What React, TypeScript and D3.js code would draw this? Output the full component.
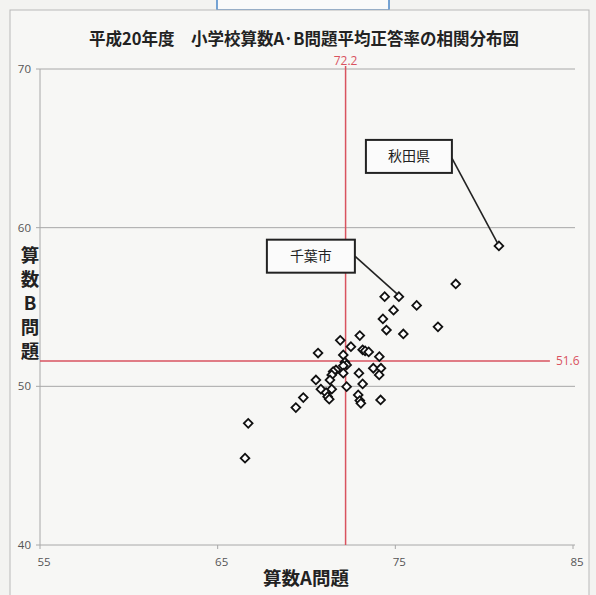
import React from "react";
import * as d3 from "d3";

const scoreA: number[] = [80.83, 78.4, 74.4, 75.2, 76.2, 74.9, 74.3, 77.4, 74.5, 75.45, 73.0, 71.9, 72.5, 73.16, 73.3, 73.5, 70.65, 72.07, 74.1, 72.16, 72.26, 72.07, 73.76, 74.19, 71.66, 71.5, 71.42, 72.95, 74.09, 72.07, 70.53, 71.32, 73.16, 72.26, 70.81, 71.42, 71.1, 71.19, 71.28, 72.91, 73.0, 73.06, 69.82, 74.17, 69.4, 66.72, 66.54];
const scoreB: number[] = [58.85, 56.45, 55.65, 55.65, 55.1, 54.8, 54.25, 53.75, 53.55, 53.3, 53.2, 52.9, 52.5, 52.3, 52.23, 52.17, 52.1, 51.98, 51.87, 51.52, 51.35, 51.29, 51.14, 51.14, 51.03, 50.93, 50.72, 50.83, 50.72, 50.83, 50.4, 50.4, 50.15, 49.98, 49.82, 49.82, 49.6, 49.35, 49.19, 49.46, 49.1, 48.93, 49.29, 49.14, 48.66, 47.67, 45.47];

const xTicks: number[] = [55, 65, 75, 85];
const yTicks: number[] = [40, 50, 60, 70];
const meanA = 72.2;
const meanB = 51.6;

const calloutNames: string[] = ["秋田県", "千葉市"];
const calloutIndex: number[] = [0, 3];

const title = "平成20年度\u3000小学校算数A·B問題平均正答率の相関分布図";
const xTitle = "算数A問題";
const yTitle: string[] = ["算", "数", "B", "問", "題"];

const W = 596;
const H = 595;
const left = 40;
const right = 573;
const top = 69;
const bottom = 545;

export default function App() {
  const x = d3.scaleLinear().domain([55, 85]).range([left, right]);
  const y = d3.scaleLinear().domain([40, 70]).range([bottom, top]);
  const marker = d3.symbol().type(d3.symbolSquare).size(38)();
  const jp = "'Noto Sans CJK JP', 'Noto Sans', sans-serif";
  const num = "'Open Sans', 'Liberation Sans', sans-serif";
  const red = "#d9535f";

  const boxes = [
    { dx: -133, dy: -106, w: 86, h: 33, ly: 0.55 },
    { dx: -132, dy: -57, w: 88, h: 33, ly: 0.5 },
  ];

  return (
    <div style={{ position: "absolute", left: 0, top: 0 }}>
      <svg width={W} height={H} style={{ display: "block" }}>
        <rect x={0} y={0} width={W} height={H} fill="#f3f3f1" />
        <rect x={217} y={-2} width={172} height={12} fill="#fafafa" stroke="#4a86c8" strokeWidth={1.5} />
        <rect x={10} y={10} width={579} height={H} fill="#f7f7f5" stroke="#b9b9b9" strokeWidth={1} />
        <text x={304} y={45} textAnchor="middle" fontFamily={jp} fontWeight="bold" fontSize={16.5} fill="#222">
          {title}
        </text>
        {yTicks.filter((t) => t > 40).map((t) => (
          <line key={"g" + t} x1={left} x2={right + 2} y1={y(t)} y2={y(t)} stroke="#a8a8a8" strokeWidth={1} />
        ))}
        <line x1={left} x2={right + 2} y1={y(40)} y2={y(40)} stroke="#a8a8a8" strokeWidth={1} />
        <line x1={left} x2={left} y1={y(70)} y2={y(40)} stroke="#a8a8a8" strokeWidth={1} />
        {xTicks.map((t) => (
          <line key={"xt" + t} x1={x(t)} x2={x(t)} y1={y(40)} y2={y(40) + 4} stroke="#a8a8a8" />
        ))}
        {yTicks.map((t) => (
          <line key={"yt" + t} x1={left - 4} x2={left} y1={y(t)} y2={y(t)} stroke="#a8a8a8" />
        ))}
        {yTicks.map((t) => (
          <text key={"yl" + t} x={left - 9} y={y(t) + 4} textAnchor="end" fontFamily={num} fontSize={11.5} fill="#555">
            {t}
          </text>
        ))}
        {xTicks.map((t) => (
          <text key={"xl" + t} x={x(t) + 4} y={y(40) + 21} textAnchor="middle" fontFamily={num} fontSize={11.5} fill="#555">
            {t}
          </text>
        ))}
        <line x1={x(meanA)} x2={x(meanA)} y1={top - 3} y2={bottom} stroke={red} strokeWidth={1.5} />
        <line x1={left} x2={x(83.7)} y1={y(meanB)} y2={y(meanB)} stroke={red} strokeWidth={1.5} />
        <text x={x(meanA)} y={top - 4} textAnchor="middle" fontFamily={num} fontSize={12} fill={red}>
          {meanA.toFixed(1)}
        </text>
        <text x={x(83.7) + 6} y={y(meanB) + 4} fontFamily={num} fontSize={12} fill={red}>
          {meanB.toFixed(1)}
        </text>
        {scoreA.map((a, i) => (
          <path
            key={"p" + i}
            d={marker}
            transform={`translate(${x(a)},${y(scoreB[i])}) rotate(45)`}
            fill="#ffffff"
            stroke="#111"
            strokeWidth={1.8}
          />
        ))}
        {calloutNames.map((name, k) => {
          const i = calloutIndex[k];
          const px = x(scoreA[i]);
          const py = y(scoreB[i]);
          const b = boxes[k];
          const bx = px + b.dx;
          const by = py + b.dy;
          const ax = bx + b.w;
          const ay = by + b.h * b.ly;
          return (
            <g key={"c" + k}>
              <line x1={ax} y1={ay} x2={px - 1} y2={py - 2} stroke="#222" strokeWidth={1.6} />
              <rect x={bx} y={by} width={b.w} height={b.h} fill="#fbfbfb" stroke="#222" strokeWidth={2} />
              <text x={bx + b.w / 2} y={by + b.h / 2 + 5} textAnchor="middle" fontFamily={jp} fontSize={14} fill="#222">
                {name}
              </text>
            </g>
          );
        })}
        {yTitle.map((c, i) => (
          <text key={"yt" + i} x={30} y={262 + i * 24} textAnchor="middle" fontFamily={jp} fontWeight="bold" fontSize={18.5} fill="#222">
            {c}
          </text>
        ))}
        <text x={306} y={585} textAnchor="middle" fontFamily={jp} fontWeight="bold" fontSize={18.5} fill="#222">
          {xTitle}
        </text>
      </svg>
    </div>
  );
}
